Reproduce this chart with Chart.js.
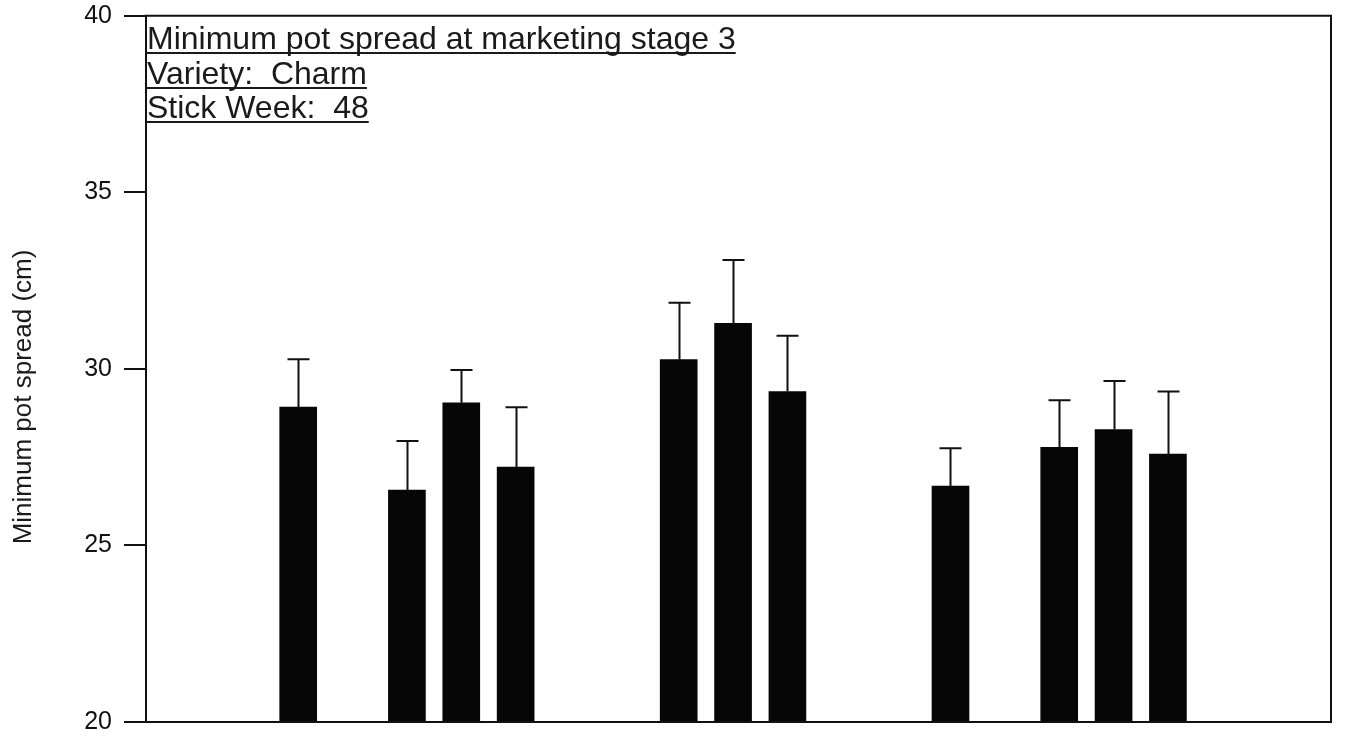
<!DOCTYPE html>
<html>
<head>
<meta charset="utf-8">
<script src="https://cdn.jsdelivr.net/npm/chart.js@4/dist/chart.umd.min.js"></script>
<style>
  html, body { margin: 0; padding: 0; background: #ffffff; }
  #wrap { width: 1346px; height: 741px; position: relative; }
</style>
</head>
<body>
<div id="wrap"><canvas id="chart"></canvas></div>
<script>
// Treatment positions along the x axis (gaps separate the treatment groups)
const slots = [0, 2, 3, 4, 7, 8, 9, 12, 14, 15, 16];
// Mean minimum pot spread (cm)
const means = [28.92, 26.57, 29.04, 27.22, 30.26, 31.29, 29.36, 26.68, 27.78, 28.28, 27.59];
// Upper error bar length (cm)
const errors = [1.35, 1.39, 0.93, 1.69, 1.61, 1.79, 1.58, 1.07, 1.33, 1.38, 1.77];
// Y axis ticks
const yTicks = [20, 25, 30, 35, 40];
// Text block in the upper-left corner of the plot
const noteLines = ['Minimum pot spread at marketing stage 3', 'Variety:  Charm', 'Stick Week:  48'];
const yTitle = 'Minimum pot spread (cm)';

const FONT = '"Liberation Sans", Arial, Helvetica, sans-serif';

const points = slots.map((s, i) => ({ x: s, y: means[i] }));

// Upward error bars with a horizontal cap
const errorBars = {
  id: 'errorBars',
  afterDatasetsDraw(chart) {
    const { ctx, scales: { x, y } } = chart;
    ctx.save();
    ctx.strokeStyle = '#111';
    ctx.lineWidth = 2;
    slots.forEach((s, i) => {
      const px = Math.round(x.getPixelForValue(s)) + 0.5;
      const yTop = y.getPixelForValue(means[i]);
      const yCap = y.getPixelForValue(means[i] + errors[i]);
      ctx.beginPath();
      ctx.moveTo(px, yTop);
      ctx.lineTo(px, yCap);
      ctx.moveTo(px - 11, yCap);
      ctx.lineTo(px + 11, yCap);
      ctx.stroke();
    });
    ctx.restore();
  }
};

// Frame round the plot, the rotated y title and the underlined note
const frameAndText = {
  id: 'frameAndText',
  afterDraw(chart) {
    const { ctx, chartArea: a } = chart;
    ctx.save();
    ctx.strokeStyle = '#111';
    ctx.lineWidth = 2;
    ctx.strokeRect(a.left, a.top, a.right - a.left, a.bottom - a.top);

    // y axis title
    ctx.fillStyle = '#1a1a1a';
    ctx.font = '26px ' + FONT;
    ctx.textAlign = 'center';
    ctx.textBaseline = 'middle';
    ctx.translate(24, 397);
    ctx.rotate(-Math.PI / 2);
    ctx.fillText(yTitle, 0, 0);
    ctx.setTransform(1, 0, 0, 1, 0, 0);

    // note block
    ctx.font = '32px ' + FONT;
    ctx.textAlign = 'left';
    ctx.textBaseline = 'alphabetic';
    const baselines = [49, 84, 118];
    noteLines.forEach((t, i) => {
      const x0 = a.left + 1;
      ctx.fillText(t, x0, baselines[i]);
      const w = ctx.measureText(t).width;
      ctx.fillRect(x0, baselines[i] + 3, w, 2);
    });
    ctx.restore();
  }
};

new Chart(document.getElementById('chart'), {
  type: 'bar',
  data: {
    datasets: [{
      data: points,
      backgroundColor: '#060606',
      borderWidth: 0,
      barThickness: 37,
      base: 20
    }]
  },
  options: {
    responsive: true,
    maintainAspectRatio: false,
    animation: false,
    layout: { padding: { top: 0, right: 15, bottom: 0, left: 0 } },
    plugins: { legend: { display: false }, tooltip: { enabled: false } },
    scales: {
      x: {
        type: 'linear',
        offset: false,
        min: -2.8,
        max: 19,
        ticks: { display: false },
        grid: { display: false, offset: false },
        border: { display: false },
        afterFit(scale) { scale.height = 19; }
      },
      y: {
        min: 20,
        max: 40,
        afterBuildTicks(scale) { scale.ticks = yTicks.map(v => ({ value: v })); },
        ticks: {
          color: '#111',
          font: { family: FONT, size: 25, lineHeight: 0.3 },
          padding: 12
        },
        grid: {
          drawOnChartArea: false,
          drawTicks: true,
          tickLength: 22,
          color: '#111',
          lineWidth: 2
        },
        border: { display: true, color: '#111', width: 2 },
        afterFit(scale) { scale.width = 146; }
      }
    }
  },
  plugins: [errorBars, frameAndText]
});
</script>
</body>
</html>
